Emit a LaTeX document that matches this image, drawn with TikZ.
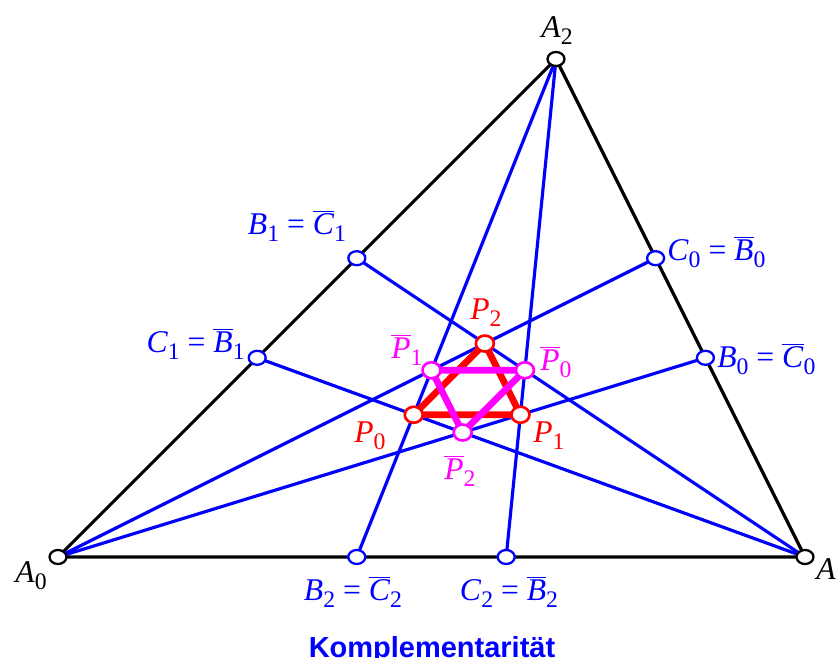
\documentclass[tikz,border=0pt]{standalone}
\usepackage{fontspec}
\setmainfont{Liberation Serif}
\setsansfont{Liberation Sans}
\usetikzlibrary{shapes.geometric,calc}

\definecolor{pmag}{RGB}{255,0,255}
\newcommand\sbx[1]{\raisebox{-4pt}{\fontsize{13.5}{14}\selectfont#1}}
\newcommand\ix[2]{\textit{#1}\sbx{#2}}
\newcommand\bix[2]{$\overline{\mbox{\textit{#1}}}$\sbx{#2}}

\begin{document}
\begin{tikzpicture}[
  x=0.02cm, y=-0.02cm,
  edge/.style={black, line width=1.8pt},
  cev/.style={blue, line width=1.8pt},
  rtri/.style={red, line width=3.8pt, line join=round},
  mtri/.style={pmag, line width=3.8pt, line join=round},
  bpt/.style={ellipse, draw=blue, fill=white, line width=1.3pt,
              minimum width=0.34cm, minimum height=0.28cm, inner sep=0pt},
  kpt/.style={bpt, draw=black},
  rpt/.style={bpt, draw=red, line width=1.5pt,
              minimum width=0.36cm, minimum height=0.32cm},
  mpt/.style={rpt, draw=pmag},
  lbl/.style={font=\fontsize{18}{20}\selectfont, inner sep=0pt},
  blbl/.style={lbl, text=blue},
  rlbl/.style={lbl, text=red},
  mlbl/.style={lbl, text=pmag},
]
\useasboundingbox (0,0) rectangle (836,658);

% Triangle vertices
\coordinate (A0) at (58,557);
\coordinate (A1) at (805,557);
\coordinate (A2) at (556,59);

% Points on the sides
\coordinate (B2) at ($(A0)!0.4!(A1)$);
\coordinate (C2) at ($(A0)!0.6!(A1)$);
\coordinate (C1) at ($(A0)!0.4!(A2)$);
\coordinate (B1) at ($(A0)!0.6!(A2)$);
\coordinate (B0) at ($(A1)!0.4!(A2)$);
\coordinate (C0) at ($(A1)!0.6!(A2)$);

% Intersections
\coordinate (P0) at (intersection of A2--B2 and A1--C1);
\coordinate (P1) at (intersection of A2--C2 and A0--B0);
\coordinate (P2) at (intersection of A0--C0 and A1--B1);
\coordinate (Q0) at (intersection of A2--C2 and A1--B1);
\coordinate (Q1) at (intersection of A2--B2 and A0--C0);
\coordinate (Q2) at (intersection of A0--B0 and A1--C1);

\draw[edge] (A0)--(A1)--(A2)--cycle;

% Cevians
\draw[cev] (A2)--(B2);
\draw[cev] (A2)--(C2);
\draw[cev] (A0)--(B0);
\draw[cev] (A0)--(C0);
\draw[cev] (A1)--(B1);
\draw[cev] (A1)--(C1);

\draw[rtri] (P0)--(P1)--(P2)--cycle;
\draw[mtri] (Q0)--(Q1)--(Q2)--cycle;

% Markers
\foreach \p in {A0,A1,A2} \node[kpt] (m\p) at (\p) {};
\foreach \p in {B0,B1,B2,C0,C1,C2} \node[bpt] (m\p) at (\p) {};
\foreach \p in {P0,P1,P2} \node[rpt] (m\p) at (\p) {};
\foreach \p in {Q0,Q1,Q2} \node[mpt] (m\p) at (\p) {};

% Labels
\node[lbl] (lA2) at (557,31) {\ix{A}{2}};
\node[lbl] (lA0) at (31,576) {\ix{A}{0}};
\node[lbl, anchor=west] (lA1) at (816,573) {\ix{A}{1}};
\node[blbl] (lB1) at (297,226) {\ix{B}{1} = \bix{C}{1}};
\node[blbl, anchor=east] (lC1) at (245,344) {\ix{C}{1} = \bix{B}{1}};
\node[blbl, anchor=west] (lC0) at (667,252) {\ix{C}{0} = \bix{B}{0}};
\node[blbl, anchor=west] (lB0) at (717,359) {\ix{B}{0} = \bix{C}{0}};
\node[blbl] (lB2) at (353,592) {\ix{B}{2} = \bix{C}{2}};
\node[blbl] (lC2) at (509,592) {\ix{C}{2} = \bix{B}{2}};
\node[rlbl] (lP2) at (486,313) {\ix{P}{2}};
\node[rlbl] (lP0) at (370,436) {\ix{P}{0}};
\node[rlbl] (lP1) at (549,436) {\ix{P}{1}};
\node[mlbl] (lQ1) at (407,350) {\bix{P}{1}};
\node[mlbl] (lQ0) at (556,362) {\bix{P}{0}};
\node[mlbl] (lQ2) at (460,471) {\bix{P}{2}};

\node[anchor=base, text=blue, inner sep=0pt,
      font=\sffamily\bfseries\fontsize{16.5}{18}\selectfont] (ttl) at (432,658) {Komplementarität};
\end{tikzpicture}
\end{document}
